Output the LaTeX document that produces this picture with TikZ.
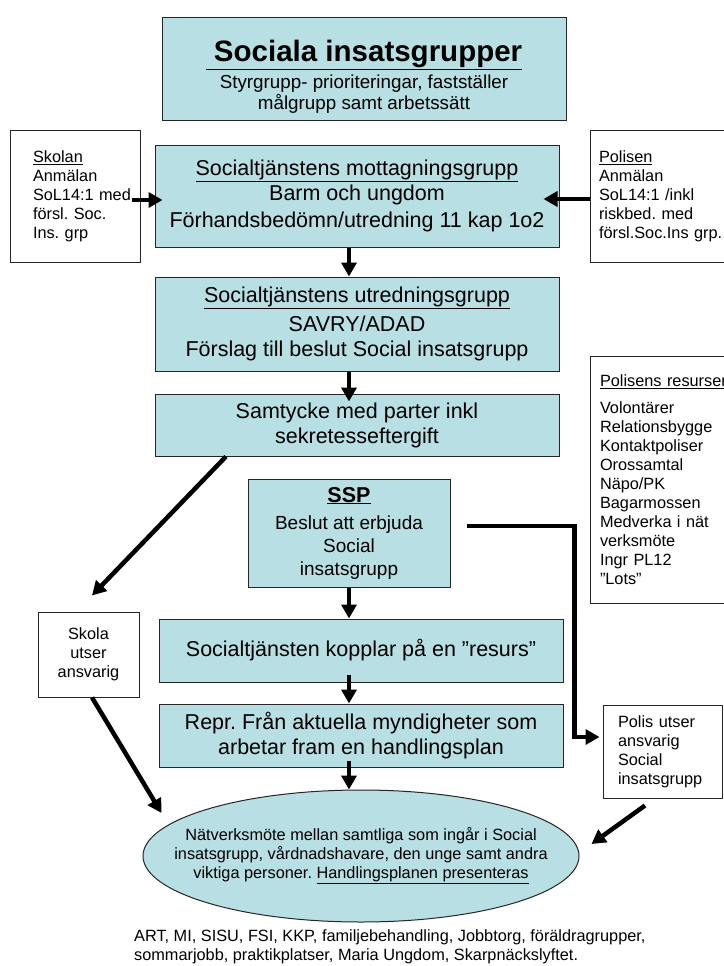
\documentclass[tikz,border=0pt]{standalone}
\usepackage{fontspec}
\setmainfont{Liberation Sans}
\usetikzlibrary{arrows.meta, shapes.geometric}
\definecolor{boxteal}{RGB}{184,223,227}
\frenchspacing

\begin{document}
\begin{tikzpicture}[x=1pt, y=-1pt,
    box/.style={draw=black!85, line width=1pt, fill=boxteal, align=center, inner sep=0pt},
    side/.style={draw=black!85, line width=1pt, fill=white, inner sep=0pt},
    big/.style={font=\fontsize{21.5}{25}\selectfont},
    small/.style={font=\fontsize{16.3}{19}\selectfont},
    arr/.style={line width=4.5pt, -{Triangle[length=14pt,width=15pt]}}]
    % border
    \useasboundingbox (0,0) rectangle (723,966);
    % main column
    \node[box, minimum width=404pt, minimum height=102pt] (title) at (364,69)
        {{\fontsize{29.5}{30}\selectfont\bfseries\rule{0pt}{36pt}\underline{\ Sociala insatsgrupper}}\\[5pt]
         {\fontsize{18.8}{20}\selectfont Styrgrupp- prioriteringar, fastställer}\\
         {\fontsize{18.8}{20}\selectfont målgrupp samt arbetssätt}};
    \node[box, big, minimum width=404pt, minimum height=102pt] (motta) at (357,196)
        {\underline{Socialtjänstens mottagningsgrupp}\\Barm och ungdom\\[2pt]Förhandsbedömn/utredning 11 kap 1o2};
    \node[box, big, minimum width=404pt, minimum height=94pt] (utred) at (357,324)
        {\underline{Socialtjänstens utredningsgrupp}\\[4pt]SAVRY/ADAD\\Förslag till beslut Social insatsgrupp};
    \node[box, big, minimum width=404pt, minimum height=62pt] (samt) at (357,425)
        {Samtycke med parter inkl\\sekretesseftergift};
    \node[box, font=\fontsize{19}{23}\selectfont, minimum width=202pt, minimum height=108pt] (ssp) at (349,533)
        {{\fontsize{21.5}{23}\selectfont\bfseries\underline{SSP}}\\[4pt]Beslut att erbjuda\\Social\\insatsgrupp};
    \node[box, big, minimum width=404pt, minimum height=63pt] (kopp) at (361,650.5)
        {Socialtjänsten kopplar på en ”resurs”};
    \node[box, big, minimum width=404pt, minimum height=63pt] (repr) at (361,735.5)
        {Repr. Från aktuella myndigheter som\\arbetar fram en handlingsplan};
    \node[box, small, ellipse, inner xsep=-40pt, minimum width=436pt, minimum height=132pt] (netw) at (361,856)
        {Nätverksmöte mellan samtliga som ingår i Social\\insatsgrupp, vårdnadshavare, den unge samt andra\\viktiga personer. \underline{Handlingsplanen presenteras}};
    % side boxes
    \node[side, small, align=left, text width=84pt, minimum width=130pt, minimum height=132pt] (skolan) at (75,196)
        {\mbox{\underline{Skolan}}\\\mbox{Anmälan}\\\mbox{SoL14:1 med}\\\mbox{försl. Soc.}\\\mbox{Ins. grp}};
    \node[side, small, align=left, text width=127pt, minimum width=145pt, minimum height=132pt] (polisen) at (662.5,196)
        {\mbox{\underline{Polisen}}\\\mbox{Anmälan}\\\mbox{SoL14:1 /inkl}\\\mbox{riskbed. med}\\\mbox{försl.Soc.Ins grp.}};
    \node[side, small, align=left, text width=126pt, minimum width=146pt, minimum height=247pt] (resurs) at (663,479.5)
        {\mbox{\underline{Polisens resurser}}\\[8pt]Volontärer\\Relationsbygge\\Kontaktpoliser\\Orossamtal\\Näpo/PK\\Bagarmossen\\\mbox{Medverka i nät}\\verksmöte\\Ingr PL12\\”Lots”};
    \node[side, small, align=center, minimum width=101pt, minimum height=85pt] (skola) at (88.5,654.5)
        {Skola\\utser\\ansvarig};
    \node[side, small, align=left, text width=89pt, minimum width=119pt, minimum height=93pt] (polis) at (662.5,751.5)
        {\mbox{Polis utser}\\ansvarig\\Social\\\mbox{insatsgrupp}};
    % footnote
    \node[small, align=left, anchor=west, inner sep=0pt] (extra) at (134,947)
        {ART, MI, SISU, FSI, KKP, familjebehandling, Jobbtorg, föräldragrupper,\\sommarjobb, praktikplatser, Maria Ungdom, Skarpnäckslyftet.};
    % arrows
    \draw[arr] ([shift={(-9,4)}]skolan.east) -- ([shift={(8,4)}]motta.west);
    \draw[arr] ([shift={(0,3)}]polisen.west) -- ([shift={(-16,3)}]motta.east);
    \draw[arr] ([shift={(-8,0)}]motta.south) -- ([shift={(-8,0)}]utred.north);
    \draw[arr] ([shift={(-8,0)}]utred.south) -- ([shift={(-8,8)}]samt.north);
    \draw[arr] ([shift={(-131,0)}]samt.south) -- ([shift={(3.5,-16)}]skola.north);
    \draw[arr] (ssp.south) -- ([shift={(-12,0)}]kopp.north);
    \draw[arr] ([shift={(-12,-8)}]kopp.south) -- ([shift={(-12,0)}]repr.north);
    \draw[arr] ([shift={(-12,-7)}]repr.south) -- ([shift={(-12,0)}]netw.north);
    \draw[arr] ([shift={(16,-7)}]ssp.east) -- ++(108,0) |- ([shift={(-3,-14.5)}]polis.west);
    \draw[arr] ([shift={(3.5,0)}]skola.south) -- ([shift={(19,-43)}]netw.west);
    \draw[arr] ([shift={(-17.5,7)}]polis.south) -- ([shift={(12,-12)}]netw.east);
\end{tikzpicture}
\end{document}
